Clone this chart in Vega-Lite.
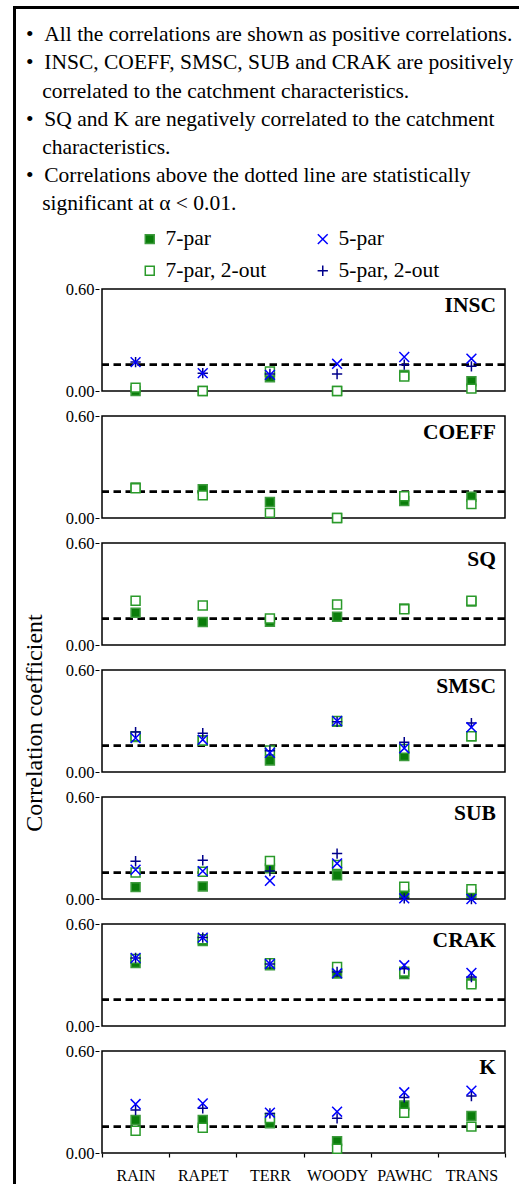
{
  "$schema": "https://vega.github.io/schema/vega-lite/v6.json",
  "background": "white",
  "padding": {"left": 13, "top": 6, "right": 0, "bottom": 0},
  "config": {
    "font": "Liberation Serif",
    "view": {"stroke": "black", "strokeWidth": 1.5},
    "concat": {"spacing": 0}
  },
  "spacing": 0,
  "vconcat": [
    {
      "data": {"values": []},
      "mark": "point",
      "encoding": {},
      "width": 620,
      "height": 1,
      "view": {"stroke": "black", "strokeWidth": 2}
    },
    {
      "spacing": 6,
      "hconcat": [
        {
          "data": {"values": []},
          "mark": "point",
          "encoding": {},
          "width": 1,
          "height": 1200,
          "view": {"stroke": "black", "strokeWidth": 2}
        },
        {
          "spacing": 66,
          "vconcat": [
            {
              "data": {"values": [
                {"line": 1, "text": "•\u00a0\u00a0All the correlations are shown as positive correlations."},
                {"line": 2, "text": "•\u00a0\u00a0INSC, COEFF, SMSC, SUB and CRAK are positively"},
                {"line": 3, "text": "\u200b\u00a0\u00a0\u00a0correlated to the catchment characteristics."},
                {"line": 4, "text": "•\u00a0\u00a0SQ and K are negatively correlated to the catchment"},
                {"line": 5, "text": "\u200b\u00a0\u00a0\u00a0characteristics."},
                {"line": 6, "text": "•\u00a0\u00a0Correlations above the dotted line are statistically"},
                {"line": 7, "text": "\u200b\u00a0\u00a0\u00a0significant at α < 0.01."}
              ]},
              "mark": {"type": "text", "font": "Liberation Serif", "fontSize": 21.5, "color": "black", "align": "left", "baseline": "middle", "dx": -76, "dy": 11},
              "encoding": {
                "x": {"datum": 0, "type": "quantitative", "scale": {"domain": [0, 1]}, "axis": null},
                "y": {"field": "line", "type": "ordinal", "scale": {"paddingInner": 0, "paddingOuter": 0}, "axis": null},
                "text": {"field": "text"}
              },
              "width": 403,
              "height": 197.4,
              "view": {"stroke": null}
            },
            {
              "data": {"values": [
                {"panel": "INSC", "char": "RAIN", "7-par": 0.0, "7-par, 2-out": 0.02, "5-par, 2-out": 0.17, "5-par": 0.17},
                {"panel": "INSC", "char": "RAPET", "7-par": 0.0, "7-par, 2-out": 0.0, "5-par, 2-out": 0.105, "5-par": 0.105},
                {"panel": "INSC", "char": "TERR", "7-par": 0.08, "7-par, 2-out": 0.115, "5-par, 2-out": 0.1, "5-par": 0.095},
                {"panel": "INSC", "char": "WOODY", "7-par": 0.0, "7-par, 2-out": 0.0, "5-par, 2-out": 0.1, "5-par": 0.16},
                {"panel": "INSC", "char": "PAWHC", "7-par": 0.095, "7-par, 2-out": 0.085, "5-par, 2-out": 0.155, "5-par": 0.2},
                {"panel": "INSC", "char": "TRANS", "7-par": 0.057, "7-par, 2-out": 0.014, "5-par, 2-out": 0.145, "5-par": 0.19},
                {"panel": "COEFF", "char": "RAIN", "7-par": 0.18, "7-par, 2-out": 0.175},
                {"panel": "COEFF", "char": "RAPET", "7-par": 0.17, "7-par, 2-out": 0.133},
                {"panel": "COEFF", "char": "TERR", "7-par": 0.094, "7-par, 2-out": 0.03},
                {"panel": "COEFF", "char": "WOODY", "7-par": 0.0, "7-par, 2-out": 0.0},
                {"panel": "COEFF", "char": "PAWHC", "7-par": 0.1, "7-par, 2-out": 0.128},
                {"panel": "COEFF", "char": "TRANS", "7-par": 0.125, "7-par, 2-out": 0.082},
                {"panel": "SQ", "char": "RAIN", "7-par": 0.19, "7-par, 2-out": 0.26},
                {"panel": "SQ", "char": "RAPET", "7-par": 0.135, "7-par, 2-out": 0.232},
                {"panel": "SQ", "char": "TERR", "7-par": 0.137, "7-par, 2-out": 0.156},
                {"panel": "SQ", "char": "WOODY", "7-par": 0.166, "7-par, 2-out": 0.238},
                {"panel": "SQ", "char": "PAWHC", "7-par": 0.215, "7-par, 2-out": 0.21},
                {"panel": "SQ", "char": "TRANS", "7-par": 0.255, "7-par, 2-out": 0.26},
                {"panel": "SMSC", "char": "RAIN", "7-par": 0.205, "7-par, 2-out": 0.21, "5-par, 2-out": 0.235, "5-par": 0.2},
                {"panel": "SMSC", "char": "RAPET", "7-par": 0.185, "7-par, 2-out": 0.185, "5-par, 2-out": 0.228, "5-par": 0.19},
                {"panel": "SMSC", "char": "TERR", "7-par": 0.068, "7-par, 2-out": 0.127, "5-par, 2-out": 0.125, "5-par": 0.113},
                {"panel": "SMSC", "char": "WOODY", "7-par": 0.295, "7-par, 2-out": 0.3, "5-par, 2-out": 0.295, "5-par": 0.3},
                {"panel": "SMSC", "char": "PAWHC", "7-par": 0.094, "7-par, 2-out": 0.136, "5-par, 2-out": 0.175, "5-par": 0.14},
                {"panel": "SMSC", "char": "TRANS", "7-par": 0.21, "7-par, 2-out": 0.21, "5-par, 2-out": 0.288, "5-par": 0.263},
                {"panel": "SUB", "char": "RAIN", "7-par": 0.07, "7-par, 2-out": 0.156, "5-par, 2-out": 0.222, "5-par": 0.172},
                {"panel": "SUB", "char": "RAPET", "7-par": 0.074, "7-par, 2-out": 0.16, "5-par, 2-out": 0.228, "5-par": 0.164},
                {"panel": "SUB", "char": "TERR", "7-par": 0.18, "7-par, 2-out": 0.224, "5-par, 2-out": 0.164, "5-par": 0.107},
                {"panel": "SUB", "char": "WOODY", "7-par": 0.14, "7-par, 2-out": 0.2, "5-par, 2-out": 0.267, "5-par": 0.209},
                {"panel": "SUB", "char": "PAWHC", "7-par": 0.03, "7-par, 2-out": 0.072, "5-par, 2-out": 0.004, "5-par": 0.004},
                {"panel": "SUB", "char": "TRANS", "7-par": 0.03, "7-par, 2-out": 0.058, "5-par, 2-out": 0.0, "5-par": 0.0},
                {"panel": "CRAK", "char": "RAIN", "7-par": 0.37, "7-par, 2-out": 0.395, "5-par, 2-out": 0.4, "5-par": 0.4},
                {"panel": "CRAK", "char": "RAPET", "7-par": 0.5, "7-par, 2-out": 0.51, "5-par, 2-out": 0.52, "5-par": 0.52},
                {"panel": "CRAK", "char": "TERR", "7-par": 0.357, "7-par, 2-out": 0.37, "5-par, 2-out": 0.365, "5-par": 0.365},
                {"panel": "CRAK", "char": "WOODY", "7-par": 0.308, "7-par, 2-out": 0.347, "5-par, 2-out": 0.318, "5-par": 0.31},
                {"panel": "CRAK", "char": "PAWHC", "7-par": 0.306, "7-par, 2-out": 0.32, "5-par, 2-out": 0.337, "5-par": 0.357},
                {"panel": "CRAK", "char": "TRANS", "7-par": 0.255, "7-par, 2-out": 0.245, "5-par, 2-out": 0.288, "5-par": 0.312},
                {"panel": "K", "char": "RAIN", "7-par": 0.194, "7-par, 2-out": 0.131, "5-par, 2-out": 0.253, "5-par": 0.288},
                {"panel": "K", "char": "RAPET", "7-par": 0.194, "7-par, 2-out": 0.149, "5-par, 2-out": 0.263, "5-par": 0.292},
                {"panel": "K", "char": "TERR", "7-par": 0.175, "7-par, 2-out": 0.206, "5-par, 2-out": 0.233, "5-par": 0.237},
                {"panel": "K", "char": "WOODY", "7-par": 0.07, "7-par, 2-out": 0.025, "5-par, 2-out": 0.204, "5-par": 0.243},
                {"panel": "K", "char": "PAWHC", "7-par": 0.28, "7-par, 2-out": 0.237, "5-par, 2-out": 0.327, "5-par": 0.357},
                {"panel": "K", "char": "TRANS", "7-par": 0.218, "7-par, 2-out": 0.155, "5-par, 2-out": 0.335, "5-par": 0.367}
              ]},
              "transform": [
                {"fold": ["7-par", "7-par, 2-out", "5-par, 2-out", "5-par"], "as": ["series", "r"]},
                {"filter": "isValid(datum.r)"}
              ],
              "facet": {
                "row": {
                  "field": "panel",
                  "type": "nominal",
                  "sort": ["INSC", "COEFF", "SQ", "SMSC", "SUB", "CRAK", "K"],
                  "header": {
                    "labels": false,
                    "title": "Correlation coefficient",
                    "titleFont": "Liberation Serif",
                    "titleFontSize": 24,
                    "titleFontWeight": "normal",
                    "titleColor": "black",
                    "titlePadding": 8
                  }
                }
              },
              "spacing": {"row": 15},
              "spec": {
                "width": 403,
                "height": 102,
                "layer": [
                  {
                    "transform": [{"aggregate": [{"op": "count", "as": "n"}], "groupby": ["panel"]}],
                    "mark": {"type": "rule", "color": "black", "strokeWidth": 2.6, "strokeDash": [7.5, 4.5]},
                    "encoding": {
                      "y": {"datum": 0.155, "type": "quantitative"}
                    }
                  },
                  {
                    "mark": {"type": "point", "size": 80, "strokeWidth": 1.5, "opacity": 1},
                    "encoding": {
                      "x": {
                        "field": "char",
                        "type": "nominal",
                        "sort": ["RAIN", "RAPET", "TERR", "WOODY", "PAWHC", "TRANS"],
                        "scale": {"paddingInner": 0, "paddingOuter": 0},
                        "axis": {
                          "title": null,
                          "labelAngle": 0,
                          "labelFont": "Liberation Serif",
                          "labelFontSize": 16,
                          "labelColor": "black",
                          "labelPadding": 14,
                          "domain": false,
                          "tickBand": "extent",
                          "tickSize": -4,
                          "tickColor": "black",
                          "tickWidth": 1.2
                        }
                      },
                      "y": {
                        "field": "r",
                        "type": "quantitative",
                        "scale": {"domain": [0, 0.6], "nice": false},
                        "axis": {
                          "title": null,
                          "values": [0, 0.2, 0.4, 0.6],
                          "format": ".2f",
                          "grid": false,
                          "domain": false,
                          "tickSize": 4,
                          "tickColor": "black",
                          "labelFont": "Liberation Serif",
                          "labelFontSize": 16.5,
                          "labelColor": "black",
                          "labelPadding": 1,
                          "labelFlush": false
                        }
                      },
                      "shape": {
                        "field": "series",
                        "type": "nominal",
                        "scale": {
                          "domain": ["7-par", "7-par, 2-out", "5-par", "5-par, 2-out"],
                          "range": ["square", "square", "M-1.1,-1.1L1.1,1.1M-1.1,1.1L1.1,-1.1", "M-1.15,0L1.15,0M0,-1.15L0,1.15"]
                        },
                        "legend": null
                      },
                      "fill": {
                        "field": "series",
                        "type": "nominal",
                        "scale": {
                          "domain": ["7-par", "7-par, 2-out", "5-par", "5-par, 2-out"],
                          "range": ["#0a7d0a", "white", "transparent", "transparent"]
                        },
                        "legend": null
                      },
                      "color": {
                        "field": "series",
                        "type": "nominal",
                        "scale": {
                          "domain": ["7-par", "7-par, 2-out", "5-par", "5-par, 2-out"],
                          "range": ["#3c9a3c", "#2a9a2a", "#0000ff", "#00008b"]
                        },
                        "legend": {
                          "orient": "none",
                          "legendX": 125,
                          "legendY": 221,
                          "columns": 2,
                          "title": null,
                          "labelFont": "Liberation Serif",
                          "labelFontSize": 21.5,
                          "labelColor": "black",
                          "labelLimit": 300,
                          "labelOffset": 5,
                          "columnPadding": 45,
                          "rowPadding": 9,
                          "symbolSize": 80,
                          "symbolStrokeWidth": 1.5
                        }
                      }
                    }
                  },
                  {
                    "transform": [{"aggregate": [{"op": "count", "as": "n"}], "groupby": ["panel"]}],
                    "mark": {"type": "text", "font": "Liberation Serif", "fontWeight": "bold", "fontSize": 21.5, "align": "right", "baseline": "alphabetic", "dx": 24.5, "dy": 23, "color": "black"},
                    "encoding": {
                      "x": {"datum": "TRANS"},
                      "y": {"datum": 0.6, "type": "quantitative"},
                      "text": {"field": "panel"}
                    }
                  }
                ]
              }
            }
          ]
        }
      ]
    }
  ]
}
